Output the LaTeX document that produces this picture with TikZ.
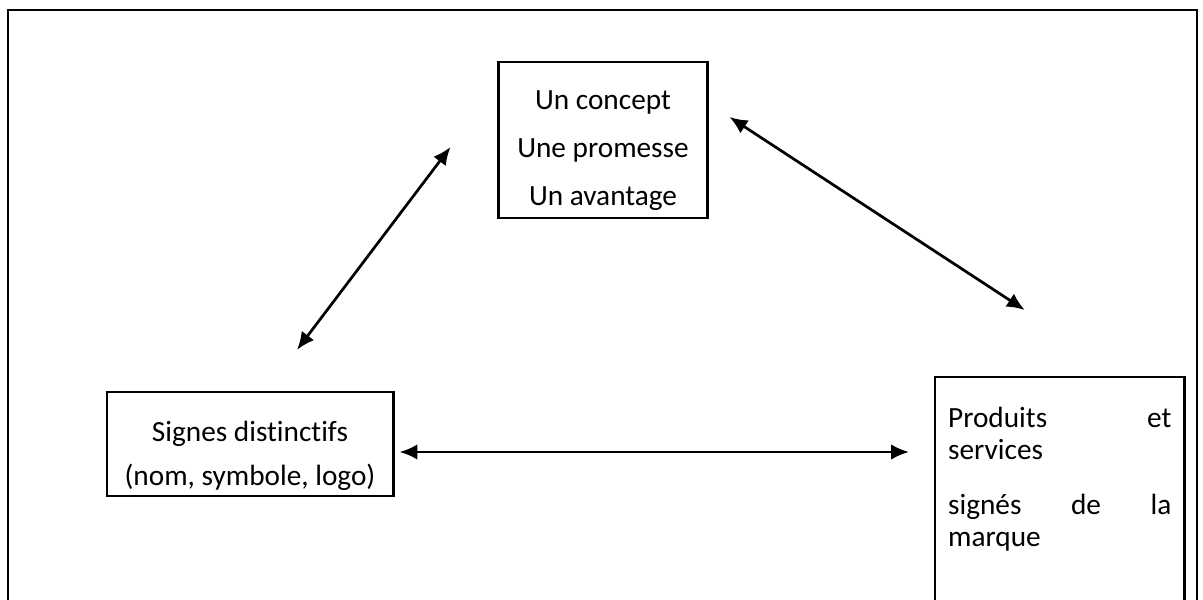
\documentclass[tikz,border=0pt]{standalone}
\usepackage{fontspec}
\setmainfont{Carlito}[Ligatures=NoCommon]
\usetikzlibrary{arrows.meta,calc}

\begin{document}
\begin{tikzpicture}[
x=0.0168cm, y=-0.0168cm,
font=\fontsize{14pt}{15.3pt}\selectfont,
box/.style={draw, line width=1pt, align=center, inner sep=0pt},
arrow/.style={{Latex[length=3mm,width=2.6mm]}-{Latex[length=3mm,width=2.6mm]}, line width=1.3pt}
]
\useasboundingbox (0,0) rectangle (1203,599);
\clip (0,0) rectangle (1203,599);

% cadre
\draw[line width=1pt] (8,640) -- (8,10) -- (1197,10) -- (1197,640);

\node[box, minimum width=3.51cm, minimum height=2.62cm] (concept) at (603,140)
  {\rule{0pt}{19pt}Un concept\\[7.6pt]Une promesse\\[7.6pt]Un avantage};
\node[box, minimum width=4.82cm, minimum height=1.75cm] (signes) at (250,444)
  {\rule{0pt}{21pt}Signes distinctifs\\[6pt](nom, symbole, logo)};
\node[box, anchor=north west, inner xsep=0.22cm, inner ysep=0.51cm] (produits) at (934,376)
  {\parbox[t][4.6cm][t]{3.75cm}{Produits \hfill et\\services\\[11pt]signés \hfill de \hfill la\\marque}};

\draw[arrow] ($(signes.north)+(47,-41)$) -- ($(concept.west)+(-47,7)$);
\draw[arrow] ($(concept.east)+(21,-23)$) -- ($(produits.north)+(-35,-66)$);
\draw[arrow] ($(signes.east)+(5,8)$) -- ($(produits.north west)+(-25,76)$);
\end{tikzpicture}
\end{document}
